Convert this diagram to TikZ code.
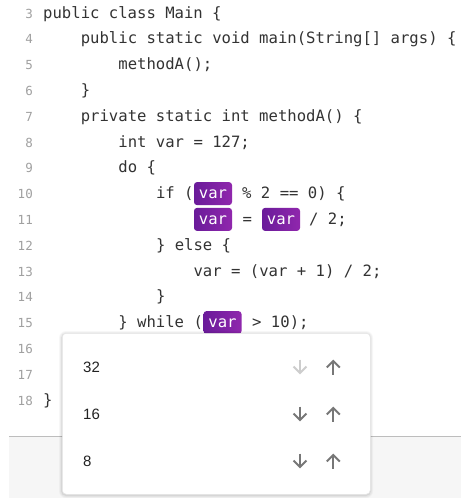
\documentclass[tikz,border=0pt]{standalone}
\usepackage{fontspec}
\newfontfamily\codefont{DejaVu Sans Mono}
\newfontfamily\uifont{Liberation Sans}
\definecolor{codegray}{HTML}{333333}
\definecolor{numgray}{HTML}{A0A0A0}
\definecolor{hlA}{HTML}{6A1B9A}
\definecolor{hlB}{HTML}{9027AD}
\definecolor{arrowgray}{HTML}{777777}
\definecolor{arrowoff}{HTML}{CDCDCD}
\definecolor{itemtext}{HTML}{222222}
\definecolor{bandgray}{HTML}{F6F6F6}
\definecolor{sepgray}{HTML}{BDBDBD}
% column x of a monospace cell, and baseline y of a source line
\newcommand\cx[1]{43+#1*9.4}
\newcommand\by[1]{18+(#1-3)*25.8}
\begin{document}
\begin{tikzpicture}[x=1pt,y=-1pt,
  code/.style={anchor=base west, inner sep=0pt, font=\codefont\fontsize{15.6}{18}\selectfont, text=codegray},
  lnum/.style={anchor=base east, inner sep=0pt, font=\codefont\fontsize{12.5}{14}\selectfont, text=numgray},
  hlbox/.style={rounded corners=3pt, left color=hlA, right color=hlB, draw=none,
    minimum width=38pt, minimum height=23pt, inner sep=0pt, text=white,
    text height=10pt, text depth=0pt, font=\codefont\fontsize{15.6}{18}\selectfont},
  item/.style={anchor=base west, inner sep=0pt, font=\uifont\fontsize{15}{18}\selectfont, text=itemtext},
  arr/.style={line width=2pt, draw=arrowgray, miter limit=10},
  arroff/.style={arr, draw=arrowoff},
]
\useasboundingbox (0,0) rectangle (461,498);
\fill[white] (0,0) rectangle (461,498);

% line numbers
\foreach \n in {3,...,18}{
  \node[lnum] (ln\n) at (33,{\by{\n}}) {\n};
}

% source text
\node[code] (l3)  at ({\cx{0}},{\by{3}})  {public class Main \{};
\node[code] (l4)  at ({\cx{4}},{\by{4}})  {public static void main(String[] args) \{};
\node[code] (l5)  at ({\cx{8}},{\by{5}})  {methodA();};
\node[code] (l6)  at ({\cx{4}},{\by{6}})  {\}};
\node[code] (l7)  at ({\cx{4}},{\by{7}})  {private static int methodA() \{};
\node[code] (l8)  at ({\cx{8}},{\by{8}})  {int var = 127;};
\node[code] (l9)  at ({\cx{8}},{\by{9}})  {do \{};
\node[code] (l10a) at ({\cx{12}},{\by{10}}) {if (};
\node[hlbox] (v10) at (213,{\by{10}-5}) {var};
\node[code] (l10b) at (242,{\by{10}}) {\% 2 == 0) \{};
\node[hlbox] (v11a) at (213,{\by{11}-5}) {var};
\node[code] (l11a) at (242.3,{\by{11}}) {=};
\node[hlbox] (v11b) at (281,{\by{11}-5}) {var};
\node[code] (l11b) at (309,{\by{11}}) {/ 2;};
\node[code] (l12) at ({\cx{12}},{\by{12}}) {\} else \{};
\node[code] (l13) at ({\cx{16}},{\by{13}}) {var = (var + 1) / 2;};
\node[code] (l14) at ({\cx{12}},{\by{14}}) {\}};
\node[code] (l15a) at ({\cx{8}},{\by{15}}) {\} while (};
\node[hlbox] (v15) at (222.5,{\by{15}-5}) {var};
\node[code] (l15b) at (252,{\by{15}}) {> 10);};
\node[code] (l18) at ({\cx{0}},{\by{18}}) {\}};

% lower toolbar band
\fill[bandgray] (9,436) rectangle (461,498);
\draw[sepgray, line width=1pt] (9,436) -- (461,436);

% popup card with soft shadow
\foreach \g/\o in {3/0.03,2/0.04,1/0.06}{
  \fill[black, opacity=\o, rounded corners={4pt+\g pt}]
    ({62-\g},{333-\g+1}) rectangle ({370+\g},{494+\g+1});
}
\node[draw=black!10, fill=white, rounded corners=4pt, line width=0.5pt,
  minimum width=308pt, minimum height=161pt, inner sep=0pt, anchor=north west]
  (card) at (62,333) {};

% popup entries
\node[item] (i32) at (83,372.5) {32};
\node[item] (i16) at (83,419.5) {16};
\node[item] (i8)  at (83,466.5) {8};

% move down / move up icons
\foreach \cy/\st in {367/arroff,414/arr,461/arr}{
  \draw[\st] (300,{\cy-7.5}) -- (300,{\cy+6});
  \draw[\st] (293.5,{\cy-0.5}) -- (300,{\cy+6}) -- (306.5,{\cy-0.5});
  \draw[arr] (333.3,{\cy+7.5}) -- (333.3,{\cy-6});
  \draw[arr] (326.8,{\cy+0.5}) -- (333.3,{\cy-6}) -- (339.8,{\cy+0.5});
}
\end{tikzpicture}
\end{document}
